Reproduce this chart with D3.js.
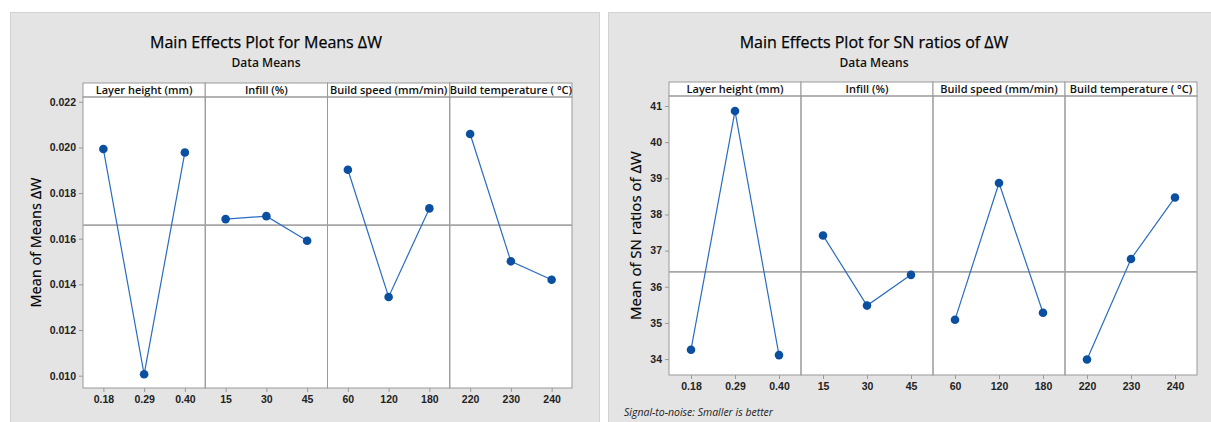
<!DOCTYPE html>
<html>
<head>
<meta charset="utf-8">
<script src="https://cdn.jsdelivr.net/npm/d3@7"></script>
<style>
  body { margin: 0; background: #ffffff; }
  svg { display: block; font-family: "Open Sans", "Noto Sans", sans-serif; }
</style>
</head>
<body>
<svg id="chart" width="1211" height="422"></svg>
<script>
// factors and their levels
const factors = ["Layer height (mm)", "Infill (%)", "Build speed (mm/min)", "Build temperature ( °C)"];
const levels = [
  ["0.18", "0.29", "0.40"],
  ["15", "30", "45"],
  ["60", "120", "180"],
  ["220", "230", "240"]
];

// Mean of means dW
const meansValues = [
  [0.01993, 0.01006, 0.01978],
  [0.01686, 0.01699, 0.01591],
  [0.01902, 0.01345, 0.01733],
  [0.02059, 0.01501, 0.01420]
];
const meansTicks = [0.010, 0.012, 0.014, 0.016, 0.018, 0.020, 0.022];

// Mean of SN ratios
const snValues = [
  [34.26, 40.86, 34.11],
  [37.42, 35.48, 36.33],
  [35.09, 38.87, 35.28],
  [33.99, 36.77, 38.47]
];
const snTicks = [34, 35, 36, 37, 38, 39, 40, 41];

const svg = d3.select("#chart");

function drawPlot(cfg) {
  const g = svg.append("g");

  // grey panel
  g.append("rect")
    .attr("x", cfg.panel[0] + 0.5).attr("y", cfg.panel[1] + 0.5)
    .attr("width", cfg.panel[2]).attr("height", cfg.panel[3])
    .attr("fill", "#e4e4e4").attr("stroke", "#d2d2d2");

  // titles
  g.append("text")
    .attr("x", cfg.titleX).attr("y", 48)
    .attr("text-anchor", "middle")
    .style("font-size", "16px").style("fill", "#000")
    .style("stroke", "#000").style("stroke-width", 0.25)
    .text(cfg.title);
  g.append("text")
    .attr("x", cfg.titleX).attr("y", 67)
    .attr("text-anchor", "middle")
    .style("font-size", "12px").style("font-weight", 600).style("fill", "#111")
    .text("Data Means");

  const y = d3.scaleLinear().domain(cfg.yDomain).range([cfg.bottom, cfg.stripBottom]);
  const panelW = (cfg.right - cfg.left) / factors.length;

  // plot background
  g.append("rect")
    .attr("x", cfg.left).attr("y", cfg.stripTop)
    .attr("width", cfg.right - cfg.left).attr("height", cfg.bottom - cfg.stripTop)
    .attr("fill", "#fff");

  const grand = d3.mean(cfg.values.flat());

  // y axis
  const yAxis = g.append("g")
    .attr("transform", `translate(${cfg.left},0)`)
    .call(d3.axisLeft(y).tickValues(cfg.ticks).tickSize(4).tickPadding(3)
      .tickFormat(cfg.fmt));
  yAxis.select(".domain").remove();
  yAxis.selectAll(".tick line").attr("stroke", "#999");
  yAxis.selectAll(".tick text")
    .style("font-family", "inherit").style("font-size", "10.5px")
    .style("font-weight", 600).style("fill", "#222");

  g.append("text")
    .attr("transform", `translate(${cfg.yTitleX},${(cfg.stripBottom + cfg.bottom) / 2}) rotate(-90)`)
    .attr("text-anchor", "middle")
    .attr("dominant-baseline", "middle")
    .style("font-size", cfg.yTitleSize).style("fill", "#000")
    .style("stroke", "#000").style("stroke-width", 0.2)
    .text(cfg.yTitle);

  factors.forEach((f, i) => {
    const x0 = cfg.left + i * panelW;
    const x = d3.scalePoint().domain(levels[i]).range([x0, x0 + panelW]).padding(0.5);

    // strip
    g.append("rect")
      .attr("x", x0).attr("y", cfg.stripTop)
      .attr("width", panelW).attr("height", cfg.stripBottom - cfg.stripTop)
      .attr("fill", "#fff").attr("stroke", "#999").attr("stroke-width", 1);
    g.append("text")
      .attr("x", x0 + panelW / 2).attr("y", cfg.stripBottom - 3.5)
      .attr("text-anchor", "middle")
      .style("font-size", "11px").style("font-weight", 600).style("fill", "#111")
      .text(f);

    // panel frame
    g.append("rect")
      .attr("x", x0).attr("y", cfg.stripBottom)
      .attr("width", panelW).attr("height", cfg.bottom - cfg.stripBottom)
      .attr("fill", "none").attr("stroke", "#999").attr("stroke-width", 1);

    // x axis
    const xAxis = g.append("g")
      .attr("transform", `translate(0,${cfg.bottom})`)
      .call(d3.axisBottom(x).tickSize(4).tickPadding(4));
    xAxis.select(".domain").remove();
    xAxis.selectAll(".tick line").attr("stroke", "#999");
    xAxis.selectAll(".tick text")
      .style("font-family", "inherit").style("font-size", "10.5px")
      .style("font-weight", 600).style("fill", "#222");

    // grand mean line
    g.append("line")
      .attr("x1", x0).attr("x2", x0 + panelW)
      .attr("y1", y(grand)).attr("y2", y(grand))
      .attr("stroke", "#a6a6a6").attr("stroke-width", 1.6);

    const pts = levels[i].map((l, j) => [x(l), y(cfg.values[i][j])]);
    g.append("path")
      .attr("d", d3.line()(pts))
      .attr("fill", "none").attr("stroke", "#2a6cc0").attr("stroke-width", 1.2);
    g.selectAll(null).data(pts).enter().append("circle")
      .attr("cx", d => d[0]).attr("cy", d => d[1]).attr("r", 4.3)
      .attr("fill", "#0b4fa0");
  });

  if (cfg.note) {
    g.append("text")
      .attr("x", cfg.note[0]).attr("y", cfg.note[1])
      .style("font-size", "10.5px").style("font-style", "italic").style("fill", "#222")
      .text(cfg.note[2]);
  }
}

drawPlot({
  panel: [10, 12, 589, 412],
  title: "Main Effects Plot for Means ΔW",
  titleX: 266,
  left: 83, right: 572, stripTop: 83, stripBottom: 97, bottom: 388,
  yDomain: [0.00946, 0.02221],
  ticks: meansTicks,
  fmt: d3.format(".3f"),
  values: meansValues,
  yTitle: "Mean of Means ΔW",
  yTitleX: 37,
  yTitleSize: "14.5px"
});

drawPlot({
  panel: [608, 12, 604, 412],
  title: "Main Effects Plot for SN ratios of ΔW",
  titleX: 874,
  left: 669, right: 1197, stripTop: 82, stripBottom: 96, bottom: 375,
  yDomain: [33.56, 41.276],
  ticks: snTicks,
  fmt: d3.format("d"),
  values: snValues,
  yTitle: "Mean of SN ratios of ΔW",
  yTitleX: 637,
  yTitleSize: "15px",
  note: [624, 416, "Signal-to-noise: Smaller is better"]
});
</script>
</body>
</html>
